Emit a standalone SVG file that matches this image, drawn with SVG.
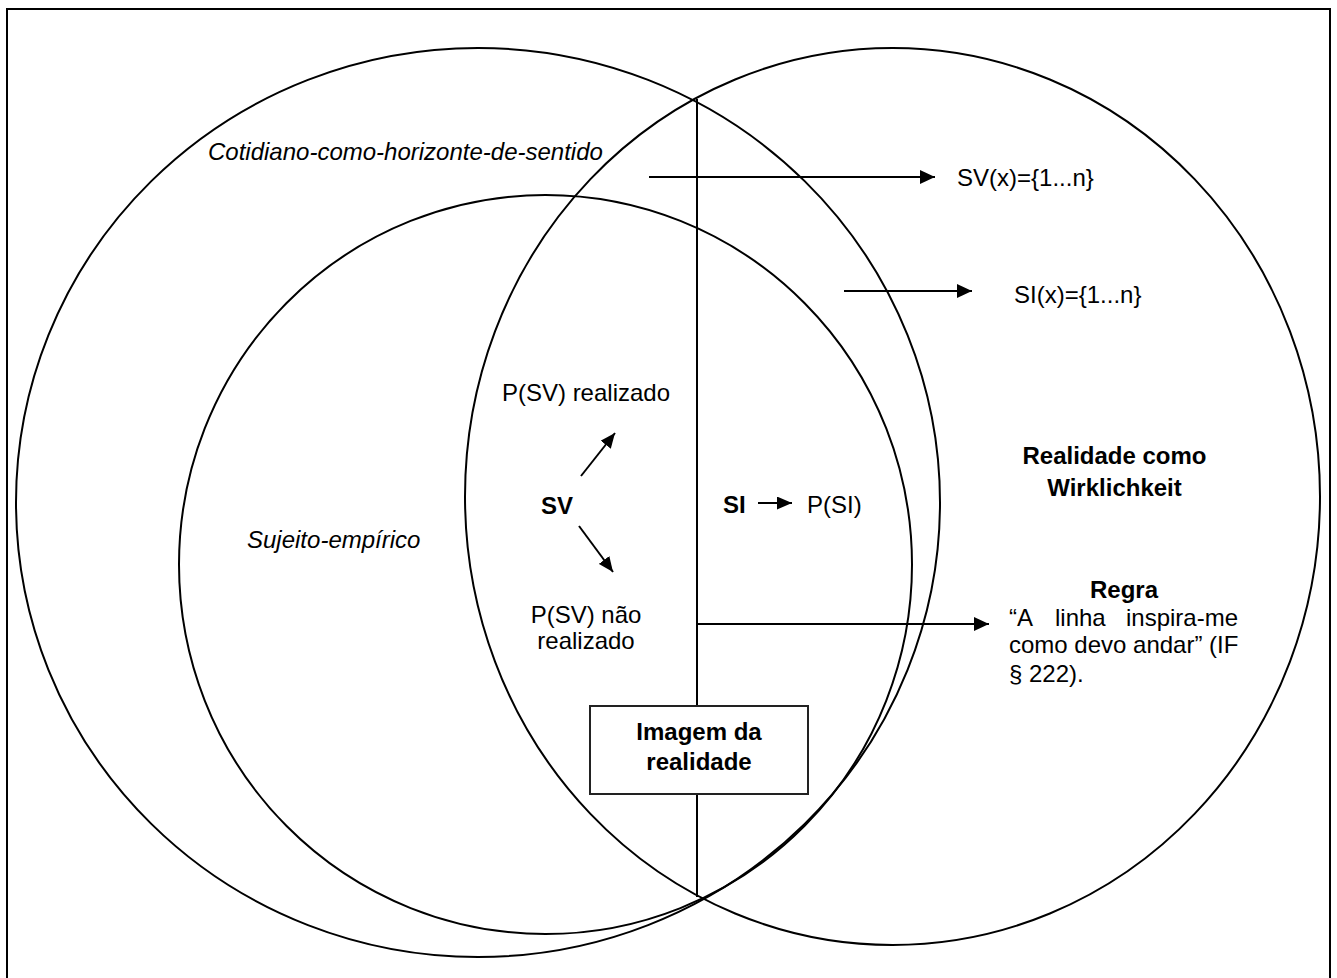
<svg xmlns="http://www.w3.org/2000/svg" width="1337" height="978" viewBox="0 0 1337 978">
<style>
.ln{fill:none;stroke:#000;stroke-width:2}
.t{font-family:"Liberation Sans",Arial,sans-serif;font-size:24px;fill:#000}
.i{font-style:italic}
.b{font-weight:bold}
.c{text-anchor:middle}
</style>
<defs>
<marker id="ah" markerUnits="userSpaceOnUse" markerWidth="16" markerHeight="14" refX="15" refY="7" orient="auto">
<path d="M0,0 L15,7 L0,14 z" fill="#000"/>
</marker>
<marker id="ahs" markerUnits="userSpaceOnUse" markerWidth="16" markerHeight="13" refX="15" refY="6.5" orient="auto">
<path d="M0,0 L15,6.5 L0,13 z" fill="#000"/>
</marker>
</defs>
<rect width="1337" height="978" fill="#fff"/>
<rect x="7" y="9" width="1323" height="1000" class="ln"/>

<g id="cotidiano">
<ellipse cx="478" cy="502.5" rx="462" ry="454.5" class="ln"/>
<text class="t i" x="208" y="160">Cotidiano-como-horizonte-de-sentido</text>
</g>
<g id="realidade">
<ellipse cx="892.5" cy="496.5" rx="427.5" ry="448.5" class="ln"/>
<text class="t b c" x="1114.5" y="464">Realidade como</text>
<text class="t b c" x="1114.5" y="496">Wirklichkeit</text>
</g>
<g id="sujeito">
<ellipse cx="545.5" cy="564.5" rx="366.5" ry="369.5" class="ln"/>
<text class="t i" x="247" y="548">Sujeito-empírico</text>
</g>

<g id="connectors">
<line x1="697" y1="99" x2="697" y2="706" class="ln"/>
<line x1="697" y1="794" x2="697" y2="897" class="ln"/>
<line x1="649" y1="177" x2="935" y2="177" class="ln" marker-end="url(#ah)"/>
<line x1="844" y1="291" x2="972" y2="291" class="ln" marker-end="url(#ah)"/>
<line x1="697" y1="624" x2="989" y2="624" class="ln" marker-end="url(#ah)"/>
<line x1="758" y1="503" x2="792" y2="503" class="ln" marker-end="url(#ahs)"/>
<line x1="581" y1="476" x2="615" y2="433" class="ln" marker-end="url(#ahs)"/>
<line x1="579" y1="526" x2="613" y2="572" class="ln" marker-end="url(#ahs)"/>
</g>

<g id="sv-set"><text class="t" x="957" y="186">SV(x)={1...n}</text></g>
<g id="si-set"><text class="t" x="1014" y="303">SI(x)={1...n}</text></g>
<g id="psv-realizado"><text class="t c" x="586" y="401">P(SV) realizado</text></g>
<g id="sv"><text class="t b" x="541" y="514">SV</text></g>
<g id="psv-nao">
<text class="t c" x="586" y="623">P(SV) não</text>
<text class="t c" x="586" y="649">realizado</text>
</g>
<g id="si"><text class="t b" x="723" y="513">SI</text></g>
<g id="psi"><text class="t" x="807" y="513">P(SI)</text></g>
<g id="regra">
<text class="t b c" x="1124" y="598">Regra</text>
<text class="t" x="1009" y="626">“A</text>
<text class="t" x="1055" y="626">linha</text>
<text class="t" x="1238" y="626" text-anchor="end">inspira-me</text>
<text class="t" x="1009" y="653">como devo andar” (IF</text>
<text class="t" x="1009" y="682">§ 222).</text>
</g>
<g id="imagem">
<rect x="590" y="706" width="218" height="88" fill="#fff" stroke="#222" stroke-width="2"/>
<text class="t b c" x="699" y="740">Imagem da</text>
<text class="t b c" x="699" y="770">realidade</text>
</g>
</svg>
